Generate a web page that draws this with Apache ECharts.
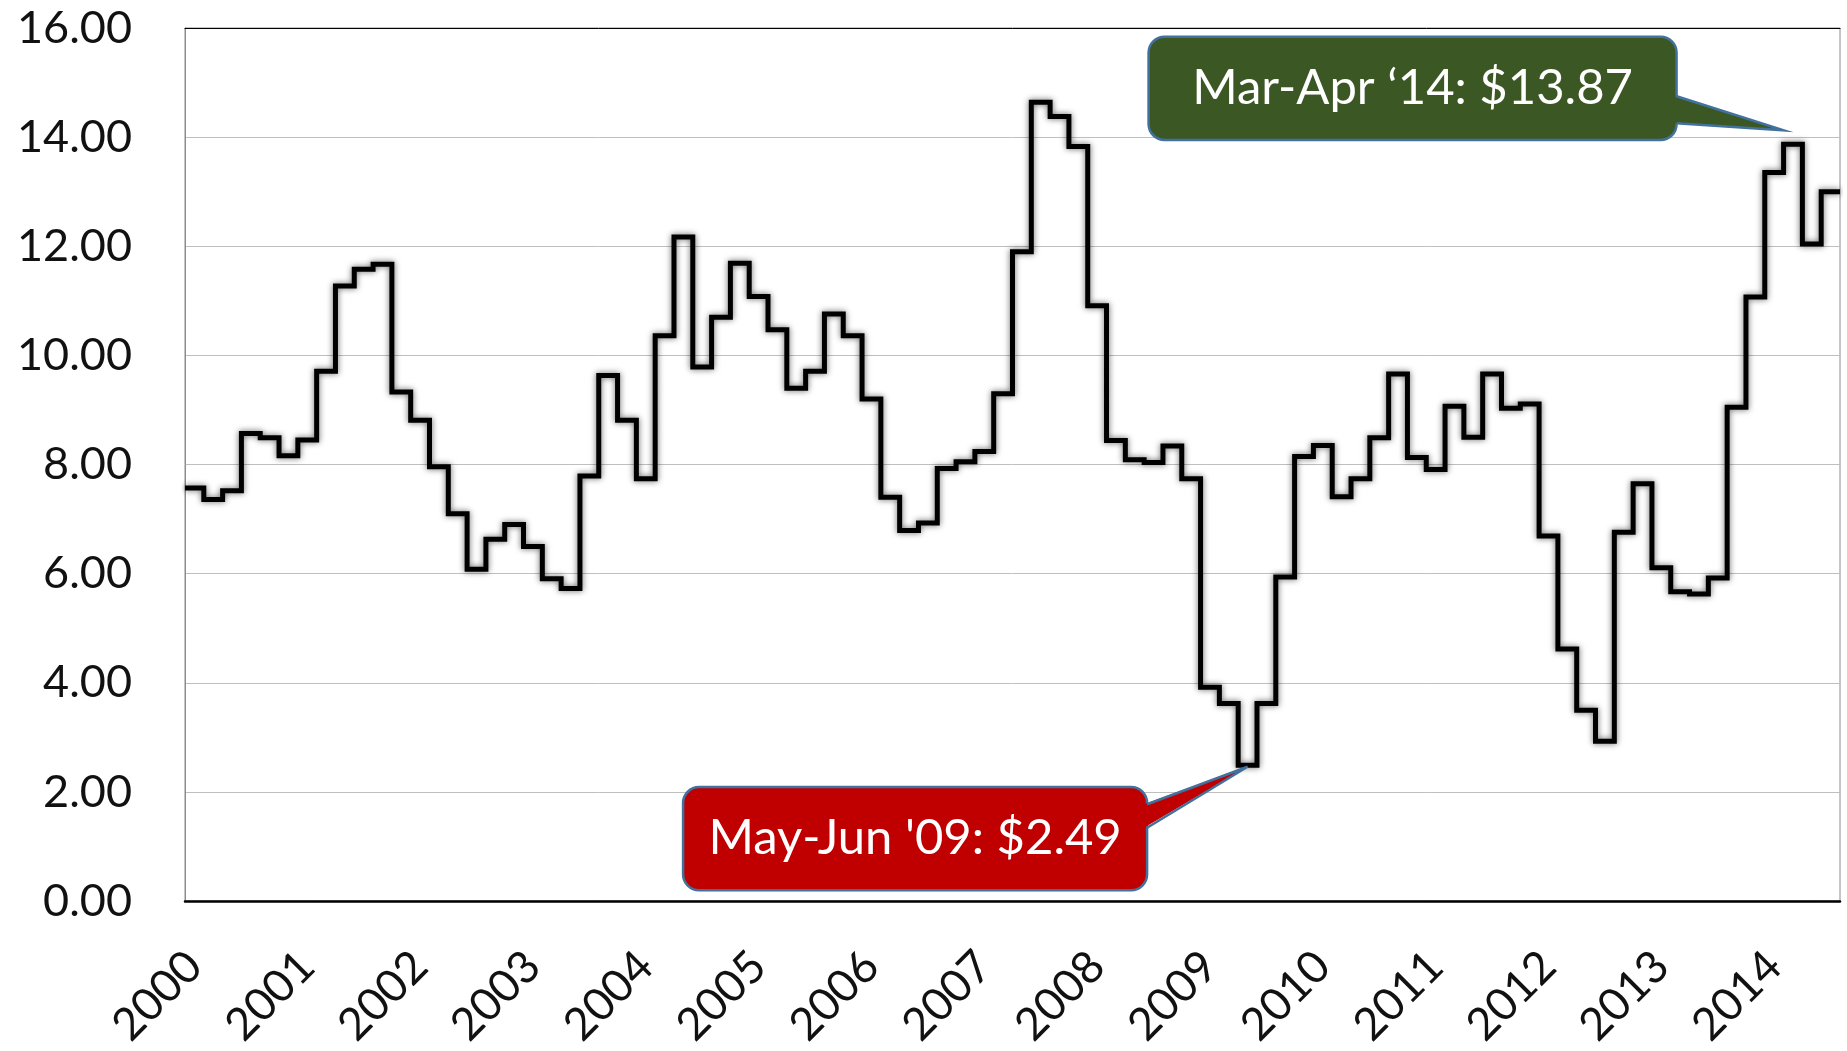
<!DOCTYPE html>
<html>
<head>
<meta charset="utf-8">
<script src="https://cdn.jsdelivr.net/npm/echarts@6/dist/echarts.min.js"></script>
<style>
  html, body { margin: 0; padding: 0; background: #fff; }
  #main { width: 1847px; height: 1051px; }
</style>
</head>
<body>
<div id="main"></div>
<script>
// years shown on the axis, two-month periods inside each year
const years = [2000, 2001, 2002, 2003, 2004, 2005, 2006, 2007, 2008, 2009, 2010, 2011, 2012, 2013, 2014];
const periods = ['Jan-Feb', 'Mar-Apr', 'May-Jun', 'Jul-Aug', 'Sep-Oct', 'Nov-Dec'];

// price per period, Jan-Feb 2000 .. Jul-Aug 2014
const prices = [
  7.57, 7.36, 7.52, 8.57, 8.49, 8.16,    // 2000
  8.45, 9.71, 11.27, 11.58, 11.67, 9.33, // 2001
  8.81, 7.96, 7.10, 6.08, 6.63, 6.90,    // 2002
  6.50, 5.91, 5.73, 7.79, 9.63, 8.81,    // 2003
  7.74, 10.36, 12.17, 9.79, 10.70, 11.69, // 2004
  11.08, 10.47, 9.40, 9.71, 10.76, 10.36, // 2005
  9.20, 7.40, 6.79, 6.93, 7.93, 8.05,    // 2006
  8.24, 9.30, 11.90, 14.64, 14.38, 13.83, // 2007
  10.91, 8.44, 8.09, 8.04, 8.34, 7.74,   // 2008
  3.92, 3.62, 2.49, 3.62, 5.94, 8.15,    // 2009
  8.35, 7.41, 7.74, 8.49, 9.66, 8.13,    // 2010
  7.91, 9.07, 8.50, 9.66, 9.03, 9.11,    // 2011
  6.69, 4.62, 3.50, 2.93, 6.76, 7.65,    // 2012
  6.11, 5.67, 5.63, 5.92, 9.05, 11.07,   // 2013
  13.35, 13.87, 12.04, 13.00             // 2014
];

const yMin = 0, yMax = 16, yStep = 2;

// callouts
const notes = [
  { text: 'Mar-Apr \u201814: $13.87', index: 85, fill: '#3b5723' },
  { text: "May-Jun '09: $2.49", index: 56, fill: '#c00000' }
];

const categories = [];
for (let i = 0; i < prices.length; i++) {
  categories.push(years[Math.floor(i / 6)] + ' ' + periods[i % 6]);
}
// each value holds from its period start to the next one
const stepData = prices.map((v, i) => [i, v]);
stepData.push([prices.length, prices[prices.length - 1]]);

const chart = echarts.init(document.getElementById('main'));
const font = 'Lato, "Open Sans", sans-serif';

chart.setOption({
  animation: false,
  grid: {
    left: 185, right: 7, top: 28, bottom: 148,
    show: true, borderColor: '#8c8c8c', borderWidth: 1
  },
  xAxis: [{
    type: 'category',
    data: categories,
    boundaryGap: true,
    axisLine: { lineStyle: { color: '#000', width: 2.5 } },
    axisTick: { show: false },
    axisLabel: {
      interval: 5,
      rotate: 45,
      margin: 58,
      fontFamily: font,
      fontSize: 45,
      color: '#111',
      formatter: v => v.slice(0, 4)
    },
    splitLine: { show: false }
  }, {
    type: 'value',
    position: 'top',
    min: 0,
    max: prices.length,
    axisLine: { show: true, lineStyle: { color: '#000', width: 1 } },
    axisTick: { show: false },
    axisLabel: { show: false },
    splitLine: { show: false }
  }],
  yAxis: {
    type: 'value',
    min: yMin, max: yMax, interval: yStep,
    axisLine: { show: true, lineStyle: { color: '#8c8c8c', width: 1 } },
    axisTick: { show: false },
    axisLabel: {
      margin: 53,
      fontFamily: font,
      fontSize: 45,
      color: '#111',
      formatter: v => v.toFixed(2)
    },
    splitLine: { lineStyle: { color: '#bfbfbf', width: 1 } }
  },
  series: [{
    type: 'line',
    xAxisIndex: 1,
    step: 'end',
    data: stepData,
    symbol: 'none',
    lineStyle: {
      color: '#000', width: 5, join: 'miter', cap: 'butt',
      shadowBlur: 6, shadowColor: 'rgba(0,0,0,0.6)'
    },
    z: 3
  }]
});

// callout boxes, drawn relative to the data point they point at
function callout(note, box, tipOff, base) {
  const p = chart.convertToPixel({ xAxisIndex: 1, yAxisIndex: 0 }, [note.index + tipOff[0], prices[note.index]]);
  const tx = p[0], ty = p[1] + tipOff[1];
  const x0 = tx + box[0], y0 = ty + box[1], x1 = tx + box[2], y1 = ty + box[3];
  const stroke = '#41719c';
  return [
    {
      type: 'rect', z: 10,
      shape: { x: x0, y: y0, width: x1 - x0, height: y1 - y0, r: 16 },
      style: { fill: note.fill, stroke: stroke, lineWidth: 2.5 }
    },
    {
      type: 'polygon', z: 11,
      shape: { points: [[x1 - 3, ty + base[0]], [tx, ty], [x1 - 3, ty + base[1]]] },
      style: { fill: note.fill }
    },
    {
      type: 'polyline', z: 12,
      shape: { points: [[x1, ty + base[0]], [tx, ty], [x1, ty + base[1]]] },
      style: { stroke: stroke, lineWidth: 2.5, fill: null }
    },
    {
      type: 'text', z: 13,
      x: (x0 + x1) / 2, y: (y0 + y1) / 2,
      style: {
        text: note.text, fill: '#fff', font: '49px ' + font,
        align: 'center', verticalAlign: 'middle'
      }
    }
  ];
}

chart.setOption({
  graphic: [].concat(
    callout(notes[0], [-635, -93.5, -107, 9.7], [0, -14], [-34, -7]),
    callout(notes[1], [-564.5, 20.3, -100.5, 123.5], [0.5, 1.5], [37.5, 61])
  )
});
</script>
</body>
</html>
